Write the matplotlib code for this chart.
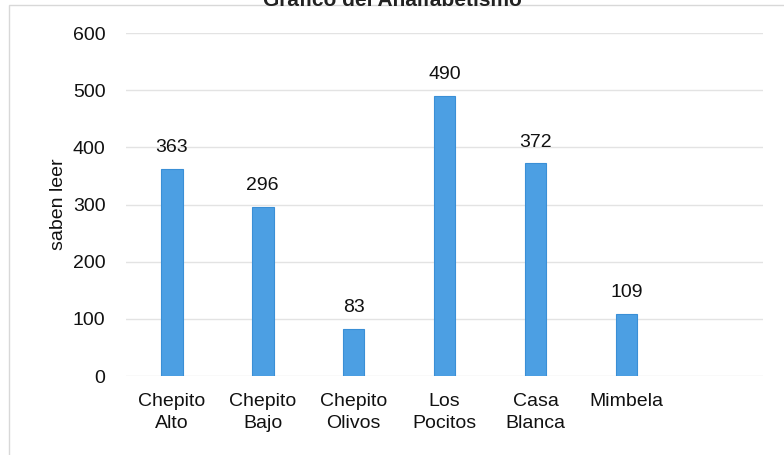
import numpy as np
import matplotlib.pyplot as plt

# Data
categories = ["Chepito\nAlto", "Chepito\nBajo", "Chepito\nOlivos", "Los\nPocitos", "Casa\nBlanca", "Mimbela"]
saben_leer = [363, 296, 83, 490, 372, 109]
y_ticks = [0, 100, 200, 300, 400, 500, 600]

plt.rcParams['font.family'] = ['Liberation Sans Narrow', 'Liberation Sans', 'DejaVu Sans']

fig = plt.figure(figsize=(7.84, 4.55), dpi=100)
ax = fig.add_axes([0.161, 0.1736, 0.812, 0.7534])

x = np.arange(len(categories))
ax.bar(x, saben_leer, width=0.24, color="#4c9fe3", edgecolor="#3a8fd6", linewidth=0.8, zorder=3)

for xi, v in zip(x, saben_leer):
    ax.text(xi, v + 22, str(v), ha="center", va="bottom", fontsize=14, color="#111111")

ax.set_xlim(-0.5, 6.5)
ax.set_ylim(0, 600)
ax.set_yticks(y_ticks)
ax.set_xticks(x)
ax.set_xticklabels(categories, fontsize=14, color="#111111", linespacing=1.4)
ax.tick_params(axis="y", labelsize=14, colors="#111111", length=0, pad=15)
ax.tick_params(axis="x", length=0, pad=12)
ax.set_ylabel("saben leer", fontsize=14, color="#111111", labelpad=4)

ax.grid(axis="y", color="#e3e3e3", linewidth=1.0, zorder=0)
for s in ax.spines.values():
    s.set_visible(False)

# title, cut off at the top of the scan
fig.text(0.5, 1.0, "Gráfico del Analfabetismo", ha="center", va="center",
         fontsize=15, fontweight="bold", color="#222222")

# light frame of the scanned chart
fig.patches.append(plt.Rectangle((0.011, -0.05), 1.1, 1.04, transform=fig.transFigure,
                                 fill=False, edgecolor="#d8d8d8", linewidth=1.0))

fig.savefig("out.png", dpi=100)
